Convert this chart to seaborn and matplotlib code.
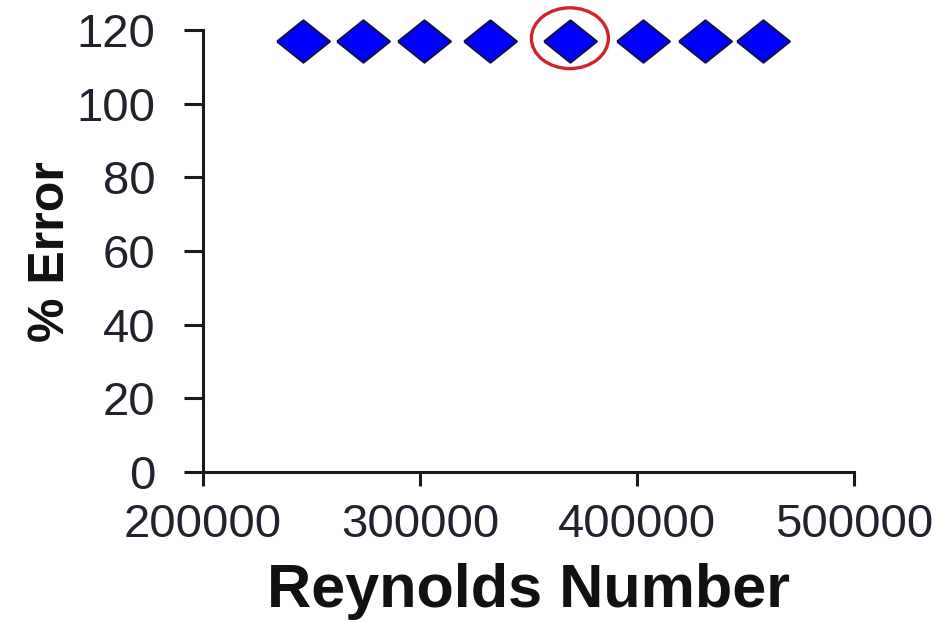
import matplotlib
matplotlib.use("Agg")
import matplotlib.pyplot as plt
from matplotlib.patches import Ellipse
import pandas as pd
import seaborn as sns

# values
reynolds = [246000, 273700, 301800, 332300, 369100, 402800, 431300, 458100]
pct_error = [117, 117, 117, 117, 117, 117, 117, 117]
circled = 4  # index of the point with the red ring
x_ticks = [200000, 300000, 400000, 500000]
y_ticks = [0, 20, 40, 60, 80, 100, 120]

df = pd.DataFrame({"Reynolds Number": reynolds, "% Error": pct_error})

sns.set_style("ticks")
plt.rcParams["font.family"] = ["Liberation Sans", "DejaVu Sans"]

fig = plt.figure(figsize=(9.44, 6.22), dpi=100)
ax = fig.add_axes([0.215, 0.241, 0.6896, 0.7106])

# flattened diamond, wider than tall
diamond = [(-1, 0), (0, 0.8), (1, 0), (0, -0.8), (-1, 0)]
sns.scatterplot(data=df, x="Reynolds Number", y="% Error", ax=ax,
                marker=diamond, s=38 ** 2, color="#0000ff",
                edgecolor="#10105a", linewidth=1.6, clip_on=False, zorder=3)

ring = Ellipse((reynolds[circled], pct_error[circled] + 0.8), width=35500, height=16.5,
               fill=False, edgecolor="#d2232a", linewidth=2.4, clip_on=False, zorder=4)
ax.add_patch(ring)

ax.set_xlim(200000, 500000)
ax.set_ylim(0, 120)
ax.set_xticks(x_ticks)
ax.set_yticks(y_ticks)
ax.set_xticklabels([str(v) for v in x_ticks])

sns.despine(ax=ax)
for side in ["left", "bottom"]:
    ax.spines[side].set_linewidth(2.2)
    ax.spines[side].set_color("#1a1a1a")
ax.tick_params(axis="both", width=2.2, color="#1a1a1a",
               labelsize=34, labelcolor="#22222e")
ax.tick_params(axis="x", length=10, pad=12)
ax.tick_params(axis="y", length=14, pad=20)

ax.set_xlabel("Reynolds Number", fontsize=44, fontweight="bold", labelpad=12,
              color="#111111")
ax.set_ylabel("% Error", fontsize=36, fontweight="bold", labelpad=2,
              color="#111111")

fig.savefig("out.png", dpi=100)
